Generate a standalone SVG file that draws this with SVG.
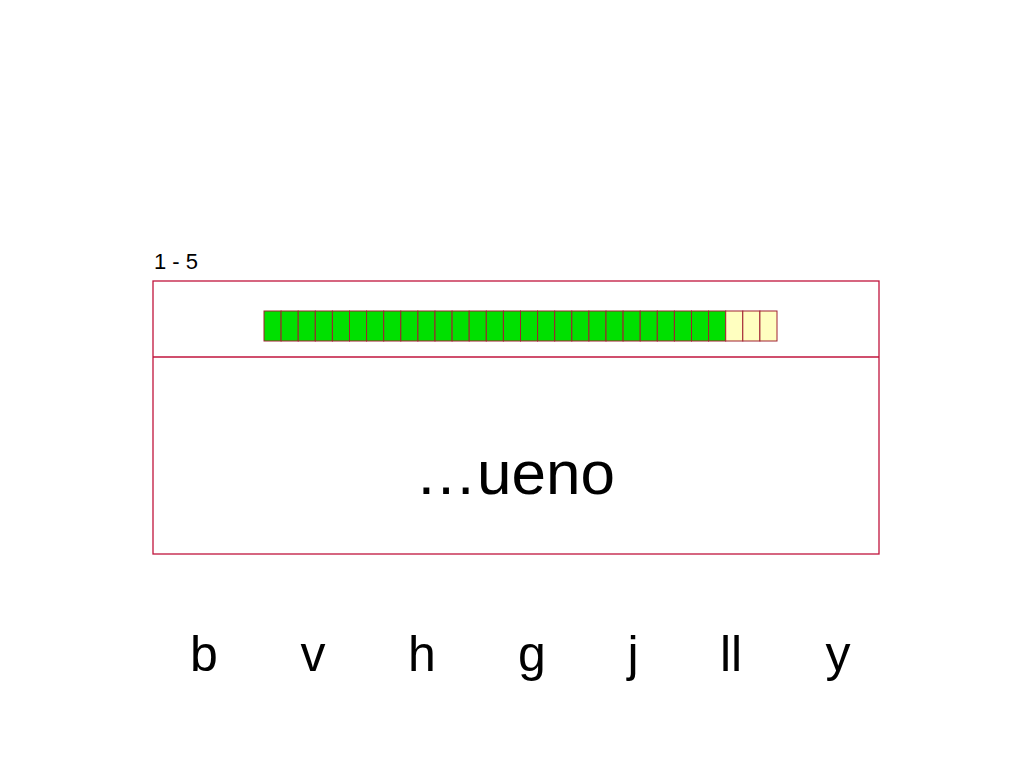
<svg xmlns="http://www.w3.org/2000/svg" width="1024" height="768" viewBox="0 0 1024 768">
<style>
text{font-family:"Liberation Sans",Arial,sans-serif;fill:#000}
.b{fill:none;stroke:#c0143c;stroke-width:1.3}
.g{fill:#00e000;stroke:#a02030;stroke-width:1}
.y{fill:#ffffc0;stroke:#a02030;stroke-width:1}
.l{font-size:50px;text-anchor:middle}
</style>
<rect width="1024" height="768" fill="#fff"/>
<text x="154" y="269" font-size="22">1 - 5</text>
<g id="box">
<rect class="b" x="153" y="281" width="726" height="273"/>
<line class="b" x1="153" y1="357" x2="879" y2="357"/>
</g>
<g id="progress">
<rect class="g" x="264.0" y="311" width="17.1" height="30"/><rect class="g" x="281.1" y="311" width="17.1" height="30"/><rect class="g" x="298.2" y="311" width="17.1" height="30"/><rect class="g" x="315.3" y="311" width="17.1" height="30"/><rect class="g" x="332.4" y="311" width="17.1" height="30"/><rect class="g" x="349.5" y="311" width="17.1" height="30"/><rect class="g" x="366.6" y="311" width="17.1" height="30"/><rect class="g" x="383.7" y="311" width="17.1" height="30"/><rect class="g" x="400.8" y="311" width="17.1" height="30"/><rect class="g" x="417.9" y="311" width="17.1" height="30"/><rect class="g" x="435.0" y="311" width="17.1" height="30"/><rect class="g" x="452.1" y="311" width="17.1" height="30"/><rect class="g" x="469.2" y="311" width="17.1" height="30"/><rect class="g" x="486.3" y="311" width="17.1" height="30"/><rect class="g" x="503.4" y="311" width="17.1" height="30"/><rect class="g" x="520.5" y="311" width="17.1" height="30"/><rect class="g" x="537.6" y="311" width="17.1" height="30"/><rect class="g" x="554.7" y="311" width="17.1" height="30"/><rect class="g" x="571.8" y="311" width="17.1" height="30"/><rect class="g" x="588.9" y="311" width="17.1" height="30"/><rect class="g" x="606.0" y="311" width="17.1" height="30"/><rect class="g" x="623.1" y="311" width="17.1" height="30"/><rect class="g" x="640.2" y="311" width="17.1" height="30"/><rect class="g" x="657.3" y="311" width="17.1" height="30"/><rect class="g" x="674.4" y="311" width="17.1" height="30"/><rect class="g" x="691.5" y="311" width="17.1" height="30"/><rect class="g" x="708.6" y="311" width="17.1" height="30"/><rect class="y" x="725.7" y="311" width="17.1" height="30"/><rect class="y" x="742.8" y="311" width="17.1" height="30"/><rect class="y" x="759.9" y="311" width="17.1" height="30"/>
</g>
<text x="515" y="494" font-size="62" text-anchor="middle">…ueno</text>
<g id="letters">
<text class="l" x="204" y="671">b</text>
<text class="l" x="313" y="671">v</text>
<text class="l" x="422" y="671">h</text>
<text class="l" x="532" y="671">g</text>
<text class="l" x="633" y="671">j</text>
<text class="l" x="731" y="671">ll</text>
<text class="l" x="838" y="671">y</text>
</g>
</svg>
